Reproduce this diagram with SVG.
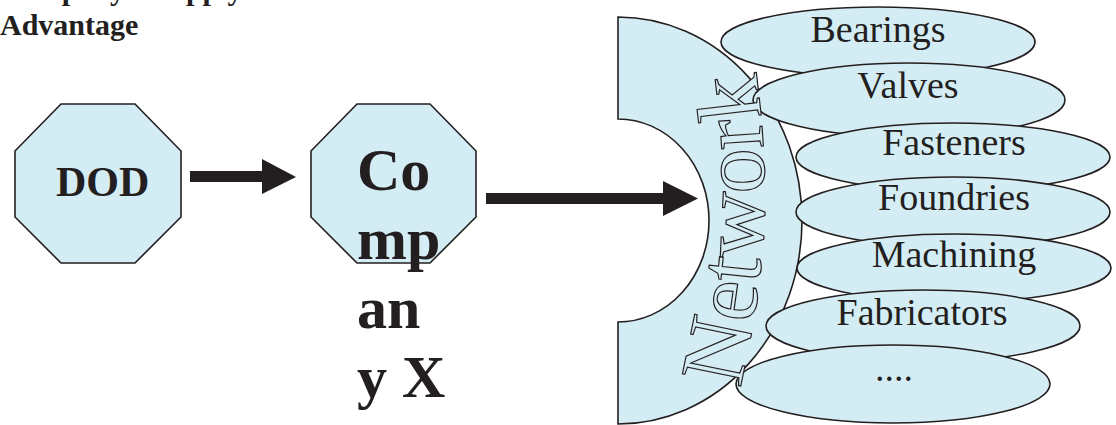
<svg xmlns="http://www.w3.org/2000/svg" width="1116" height="425" viewBox="0 0 1116 425">
<style>
.shape{fill:#d4edf4;stroke:#231f20;stroke-width:1.6}
.title{font-family:"Liberation Serif",serif;font-weight:bold;font-size:30px;fill:#231f20}
.bold{font-family:"Liberation Serif",serif;font-weight:bold;fill:#231f20}
.lbl{font-family:"Liberation Serif",serif;font-size:38px;fill:#231f20;text-anchor:middle}
.net{font-family:"Liberation Serif",serif;font-size:91px;fill:#d4edf4;stroke:#231f20;stroke-width:1.2}
.arrow{fill:#231f20}
</style>
<defs>
<path id="netpath" d="M 733 414 Q 784 230 752 46"/>
</defs>
<rect width="1116" height="425" fill="#ffffff"/>
<g id="title">
<text class="title" x="0" y="0">Company's Supply Chain</text>
<text class="title" x="0" y="35">Advantage</text>
</g>
<g id="dod">
<polygon class="shape" points="61,104 135,104 181,151 181,217 135,263 61,263 15,217 15,151"/>
<text class="bold" x="56" y="196" font-size="42">DOD</text>
</g>
<g id="company-x">
<polygon class="shape" points="357,104 430,104 476,151 476,217 430,263 357,263 311,217 311,151"/>
<text class="bold" font-size="60">
<tspan x="357" y="190">Co</tspan>
<tspan x="357" y="259">mp</tspan>
<tspan x="357" y="328">an</tspan>
<tspan x="357" y="397">y X</tspan>
</text>
</g>
<g id="network">
<path class="shape" d="M 618 17 A 184 203.5 0 0 1 618 424 L 618 322 A 91 101.5 0 0 0 618 119 Z"/>
</g>
<g id="bearings">
<ellipse class="shape" cx="878" cy="42" rx="157" ry="35"/>
<text class="lbl" x="878" y="42">Bearings</text>
</g>
<g id="valves">
<ellipse class="shape" cx="909" cy="100" rx="156" ry="37"/>
<text class="lbl" x="908" y="98">Valves</text>
</g>
<g id="fasteners">
<ellipse class="shape" cx="953" cy="157" rx="157" ry="34"/>
<text class="lbl" x="954" y="155">Fasteners</text>
</g>
<g id="foundries">
<ellipse class="shape" cx="953" cy="212" rx="157" ry="35"/>
<text class="lbl" x="954" y="210">Foundries</text>
</g>
<g id="machining">
<ellipse class="shape" cx="954" cy="268" rx="157" ry="34"/>
<text class="lbl" x="954" y="267">Machining</text>
</g>
<g id="fabricators">
<ellipse class="shape" cx="923" cy="326" rx="157" ry="36"/>
<text class="lbl" x="922" y="325">Fabricators</text>
</g>
<g id="more">
<ellipse class="shape" cx="893" cy="384" rx="157" ry="39"/>
<text class="lbl" x="894" y="381">....</text>
</g>
<g id="network-label">
<text class="net"><textPath href="#netpath" startOffset="50%" text-anchor="middle">Network</textPath></text>
</g>
<g id="connectors">
<polygon class="arrow" points="190,171 262,171 262,159 296,177 262,194 262,182 190,182"/>
<polygon class="arrow" points="486,193 663,193 663,181 698,198.5 663,216 663,204 486,204"/>
</g>
</svg>
